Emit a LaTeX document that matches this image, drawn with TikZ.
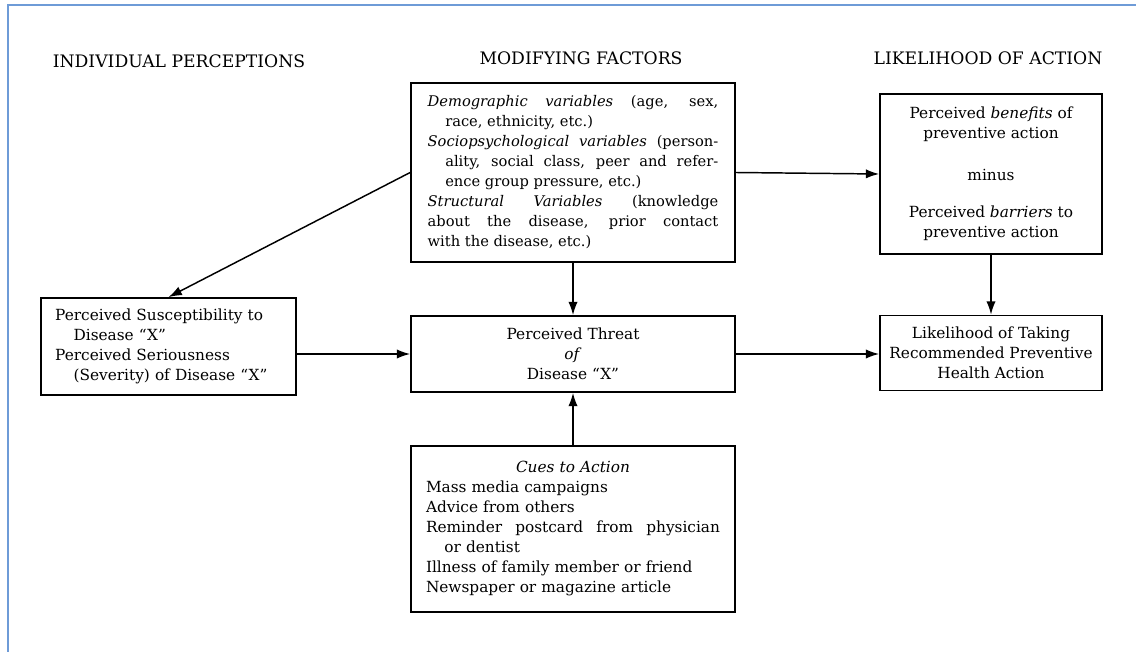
\documentclass[tikz,border=0pt]{standalone}
\usepackage{fontspec}
\setmainfont{DejaVu Serif}
\usetikzlibrary{arrows.meta}

\newcommand{\bodyfont}{\fontsize{11.5}{15}\selectfont}
\newcommand{\headfont}{\fontsize{12.9}{15}\selectfont}

\tikzset{every picture/.style={line width=0.75pt}}
\tikzset{
  box/.style={draw, line width=1.3pt, inner sep=0pt, align=center, font=\bodyfont},
  arr/.style={line width=1.1pt, -{Latex[length=10pt,width=7pt]}},
  heading/.style={inner sep=0pt, font=\headfont},
}

\begin{document}
\begin{tikzpicture}[x=0.75pt,y=0.75pt,yscale=-1,xscale=1]
\useasboundingbox (0,0) rectangle (1136,652);

%Frame
\draw [color={rgb, 255:red, 110; green, 155; blue, 215 }, line width=1.5pt] (8,652) -- (8,5) -- (1136,5) ;

% Text Node
\node [heading] (hdind) at (179,61) {INDIVIDUAL PERCEPTIONS};
% Text Node
\node [heading] (hdmod) at (581,58) {MODIFYING FACTORS};
% Text Node
\node [heading] (hdlike) at (988,58) {LIKELIHOOD OF ACTION};

%Box: modifying factors
\node [box, minimum width=243pt, minimum height=134.25pt, text width=218pt, align=justify,
       font=\fontsize{11}{15}\selectfont] (mod) at (573,172.5)
  {\hyphenpenalty=10000
   \hangindent=1.2em\hangafter=1 \textit{Demographic variables} (age, sex,\linebreak race, ethnicity, etc.)\par
   \hangindent=1.2em\hangafter=1 \textit{Sociopsychological variables} (person-\linebreak ality, social class, peer and refer-\linebreak ence group pressure, etc.)\par
   \hangindent=1.2em\hangafter=1 \textit{Structural Variables} (knowledge\linebreak about the disease, prior contact\linebreak with the disease, etc.)};
%Box: individual perceptions
\node [box, minimum width=191.25pt, minimum height=72.75pt, text width=170pt, align=left] (perc) at (168.5,346.5)
  {Perceived Susceptibility to\\
   \hspace*{1.2em}Disease ``X''\\
   Perceived Seriousness\\
   \hspace*{1.2em}(Severity) of Disease ``X''};
%Box: threat
\node [box, minimum width=243pt, minimum height=57pt] (threat) at (573,354)
  {Perceived Threat\\\textit{of}\\Disease ``X''};
%Box: cues
\node [box, minimum width=243pt, minimum height=124.5pt, text width=220.5pt, align=left] (cues) at (573,529)
  {\makebox[\hsize]{\textit{Cues to Action}}\\
   Mass media campaigns\\
   Advice from others\\
   \makebox[\hsize]{Reminder\hfill postcard\hfill from\hfill physician}\\
   \hspace*{1.2em}or dentist\\
   Illness of family member or friend\\
   Newspaper or magazine article};
%Box: benefits minus barriers
\node [box, minimum width=166.5pt, minimum height=120pt] (ben) at (991,174)
  {Perceived \textit{benefits} of\\preventive action\\[16pt]minus\\[13pt]Perceived \textit{barriers} to\\preventive action};
%Box: likelihood
\node [box, minimum width=166.5pt, minimum height=56.25pt] (like) at (991,353)
  {Likelihood of Taking\\Recommended Preventive\\Health Action};

%Straight Lines
\draw [arr] (mod.west) -- (perc.north) ;
\draw [arr] (mod.east) -- (ben.west) ;
\draw [arr] (mod.south) -- (threat.north) ;
\draw [arr] (threat.west -| perc.east) -- (threat.west) ;
\draw [arr] (threat.east) -- (threat.east -| like.west) ;
\draw [arr] (ben.south) -- (like.north) ;
\draw [arr] (cues.north) -- (threat.south) ;

\end{tikzpicture}
\end{document}
